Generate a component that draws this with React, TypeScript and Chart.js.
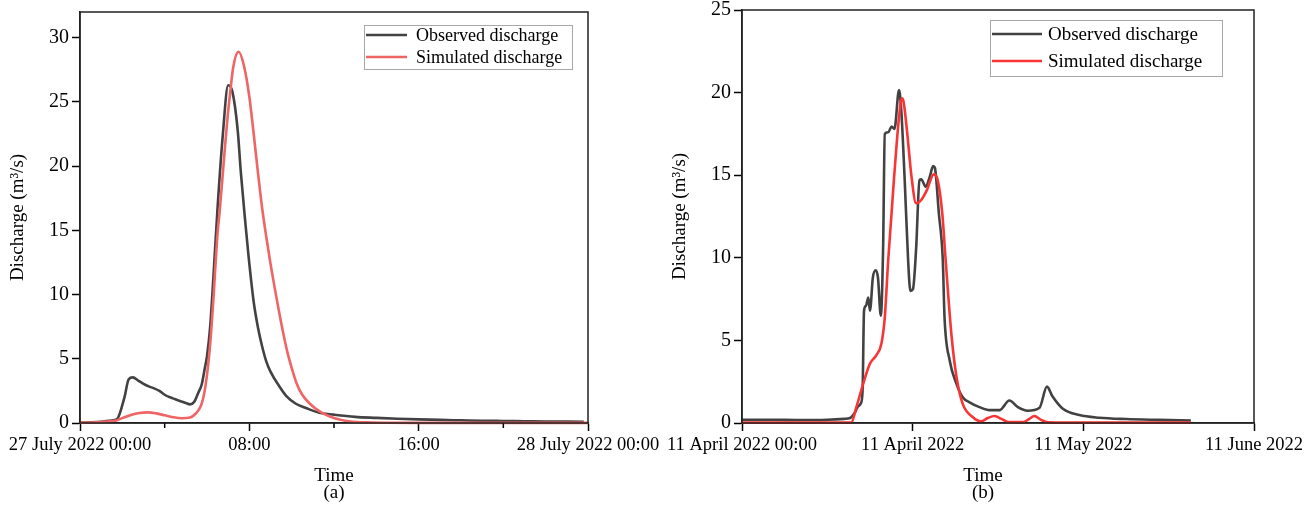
import React, { useEffect, useRef } from "react";
import { Chart, registerables } from "chart.js";

Chart.register(...registerables);

// ---------------- Panel (a) data ----------------
const OBS_A_HOURS = [0, 0.5, 1.0, 1.5, 1.75, 2.1, 2.3, 2.5, 2.75, 3.0, 3.25, 3.5, 3.75, 4.0, 4.25, 4.5, 4.75, 5.0, 5.2, 5.4, 5.6, 5.75, 5.9, 6.0, 6.15, 6.38, 6.5, 6.75, 7.0, 7.2, 7.45, 7.6, 7.8, 7.95, 8.2, 8.4, 8.6, 8.8, 9.0, 9.4, 9.75, 10.2, 10.7, 11.3, 12.0, 13.0, 14.0, 15.0, 16.0, 17.0, 18.0, 19.0, 20.0, 21.0, 22.0, 23.0, 23.8];
const OBS_A_VALUES = [0.02, 0.05, 0.1, 0.2, 0.3, 2.0, 3.4, 3.55, 3.3, 3.05, 2.85, 2.7, 2.5, 2.2, 2.0, 1.85, 1.7, 1.55, 1.45, 1.65, 2.4, 3.0, 4.3, 5.2, 7.5, 13.5, 16.8, 22.5, 26.3, 25.8, 22.8, 19.5, 15.8, 13.2, 9.5, 7.5, 6.0, 4.8, 4.0, 2.9, 2.1, 1.5, 1.15, 0.8, 0.65, 0.48, 0.4, 0.33, 0.28, 0.24, 0.21, 0.18, 0.16, 0.14, 0.12, 0.11, 0.1];

const SIM_A_HOURS = [0, 0.5, 1.0, 1.5, 1.75, 2.0, 2.4, 2.8, 3.2, 3.6, 4.0, 4.4, 4.8, 5.2, 5.45, 5.6, 5.75, 5.9, 6.06, 6.2, 6.3, 6.5, 6.6, 6.8, 6.96, 7.1, 7.24, 7.49, 7.75, 8.0, 8.2, 8.4, 8.6, 8.8, 9.0, 9.2, 9.4, 9.6, 9.8, 10.0, 10.23, 10.5, 10.86, 11.34, 11.8, 12.3, 12.8, 13.5, 14.5, 16, 20, 24];
const SIM_A_VALUES = [0.02, 0.04, 0.08, 0.15, 0.22, 0.38, 0.62, 0.78, 0.83, 0.75, 0.6, 0.45, 0.37, 0.42, 0.7, 1.0, 1.5, 2.6, 4.6, 7.2, 9.6, 14.8, 16.5, 20.5, 23.6, 25.8, 27.7, 28.9, 27.8, 25.4, 22.6, 19.6, 16.8, 14.5, 12.4, 10.5, 8.7, 7.0, 5.5, 4.3, 3.1, 2.2, 1.5, 0.88, 0.5, 0.25, 0.12, 0.05, 0.02, 0.01, 0.01, 0.01];

const X_TICKS_A = [0, 8, 16, 24];
const X_LABELS_A = ["27 July 2022 00:00", "08:00", "16:00", "28 July 2022 00:00"];
const X_MINOR_A = [4, 12, 20];
const Y_TICKS_A = [0, 5, 10, 15, 20, 25, 30];

// ---------------- Panel (b) data ----------------
const OBS_B_DAYS = [0, 5, 10, 15, 18, 19, 19.8, 20.4, 20.9, 21.2, 21.45, 21.8, 22.2, 22.5, 23.0, 23.5, 23.9, 24.4, 24.8, 25.1, 25.7, 26.3, 26.8, 27.6, 28.0, 28.6, 29.2, 29.6, 30.05, 30.6, 31.2, 31.5, 32.3, 33.0, 33.6, 33.9, 34.6, 35.3, 35.6, 36.5, 37.7, 38.8, 40.0, 41.75, 43.5, 45.3, 47.0, 48.5, 50.2, 52.3, 53.6, 54.6, 56.4, 59.3, 62.8, 67.5, 73.3, 78.9];
const OBS_B_VALUES = [0.2, 0.2, 0.18, 0.2, 0.25, 0.3, 0.6, 1.0, 1.2, 2.0, 6.8, 7.1, 7.6, 6.8, 8.8, 9.25, 8.8, 6.5, 10.5, 17.5, 17.6, 17.95, 17.8, 20.15, 18.9, 14.7, 9.85, 8.0, 8.1, 10.5, 14.7, 14.75, 14.3, 14.9, 15.55, 15.45, 12.7, 9.85, 6.4, 3.8, 2.37, 1.56, 1.25, 0.96, 0.78, 0.78, 1.36, 0.96, 0.74, 0.92, 2.2, 1.6, 0.86, 0.48, 0.32, 0.24, 0.19, 0.15];

const SIM_B_DAYS = [0, 10, 19.2, 20.1, 21.3, 22.5, 23.6, 24.5, 25.1, 25.7, 26.7, 27.6, 28.1, 28.4, 29.0, 29.8, 30.6, 31.5, 32.5, 33.7, 34.4, 35.2, 35.8, 36.8, 37.7, 38.8, 40.6, 42.0, 43.2, 44.4, 45.6, 46.8, 49.4, 50.5, 51.4, 52.5, 53.8, 60, 70, 78.9];
const SIM_B_VALUES = [0.02, 0.02, 0.02, 0.96, 2.37, 3.6, 4.1, 4.8, 6.4, 9.85, 14.7, 18.5, 19.65, 19.45, 17.7, 14.9, 13.3, 13.5, 14.1, 15.05, 14.7, 12.7, 9.85, 5.4, 2.8, 1.16, 0.35, 0.1, 0.3, 0.42, 0.25, 0.06, 0.05, 0.25, 0.42, 0.2, 0.04, 0.02, 0.02, 0.02];

const X_TICKS_B = [0, 30, 60, 90];
const X_LABELS_B = ["11 April 2022 00:00", "11 April 2022", "11 May 2022", "11 June 2022"];
const Y_TICKS_B = [0, 5, 10, 15, 20, 25];

const SERIES_LABELS = ["Observed discharge", "Simulated discharge"];
const Y_TITLE = "Discharge (m³/s)";
const X_TITLE = "Time";

const FONT = "'Liberation Serif', 'Times New Roman', serif";

type PanelSpec = {
  obsX: number[];
  obsY: number[];
  simX: number[];
  simY: number[];
  xMax: number;
  yMax: number;
  xTicks: number[];
  xLabels: string[];
  xMinor: number[];
  yTicks: number[];
  caption: string;
  simColor: string;
  obsColor: string;
  yAxisWidth: number;
  padRight: number;
  padTop: number;
  yTitlePad: number;
  xTitleShift: number;
  legend: {
    right: number;
    top: number;
    width: number;
    height: number;
    rowTop: number;
    rowGap: number;
    lineStart: number;
    lineLen: number;
    textX: number;
    fontSize: number;
  };
};

const toPoints = (xs: number[], ys: number[]) => xs.map((x, i) => ({ x, y: ys[i] }));

function makeConfig(p: PanelSpec): any {
  const framePlugin = {
    id: "frameAndLegend",
    afterDraw(chart: any) {
      const { ctx, chartArea } = chart;
      const xs = chart.scales.x;
      ctx.save();
      // minor ticks
      ctx.strokeStyle = "#000";
      ctx.lineWidth = 1.5;
      p.xMinor.forEach((v) => {
        const px = xs.getPixelForValue(v);
        ctx.beginPath();
        ctx.moveTo(px, chartArea.bottom);
        ctx.lineTo(px, chartArea.bottom + 5);
        ctx.stroke();
      });
      // frame
      ctx.strokeStyle = "#222";
      ctx.lineWidth = 1.5;
      ctx.strokeRect(chartArea.left, chartArea.top, chartArea.right - chartArea.left, chartArea.bottom - chartArea.top);
      // x title + caption
      const cx = (chartArea.left + chartArea.right) / 2 + p.xTitleShift;
      ctx.fillStyle = "#000";
      ctx.font = `19px ${FONT}`;
      ctx.textAlign = "center";
      ctx.textBaseline = "middle";
      ctx.fillText(X_TITLE, cx, chart.height - 32);
      ctx.fillText(p.caption, cx, chart.height - 15);
      // legend box
      const L = p.legend;
      const bx = chartArea.right - L.right - L.width;
      const by = chartArea.top + L.top;
      ctx.fillStyle = "#fff";
      ctx.fillRect(bx, by, L.width, L.height);
      ctx.strokeStyle = "#a8a8a8";
      ctx.lineWidth = 1;
      ctx.strokeRect(bx + 0.5, by + 0.5, L.width, L.height);
      chart.data.datasets.forEach((ds: any, i: number) => {
        const ly = by + L.rowTop + i * L.rowGap;
        ctx.strokeStyle = ds.borderColor;
        ctx.lineWidth = ds.borderWidth;
        ctx.beginPath();
        ctx.moveTo(bx + L.lineStart, ly);
        ctx.lineTo(bx + L.lineStart + L.lineLen, ly);
        ctx.stroke();
        ctx.fillStyle = "#000";
        ctx.font = `${L.fontSize}px ${FONT}`;
        ctx.textBaseline = "middle";
        ctx.textAlign = "left";
        ctx.fillText(ds.label, bx + L.textX, ly + 1);
      });
      ctx.restore();
    },
  };

  return {
    type: "line",
    data: {
      datasets: [
        {
          label: SERIES_LABELS[0],
          data: toPoints(p.obsX, p.obsY),
          borderColor: p.obsColor,
          borderWidth: 2.6,
          pointRadius: 0,
          cubicInterpolationMode: "monotone",
          clip: 4,
          order: 2,
        },
        {
          label: SERIES_LABELS[1],
          data: toPoints(p.simX, p.simY),
          borderColor: p.simColor,
          borderWidth: 2.6,
          pointRadius: 0,
          cubicInterpolationMode: "monotone",
          clip: 4,
          order: 1,
        },
      ],
    },
    options: {
      responsive: false,
      animation: false,
      devicePixelRatio: 1,
      layout: { padding: { left: 0, right: p.padRight, top: p.padTop, bottom: 0 } },
      plugins: { legend: { display: false }, tooltip: { enabled: false } },
      scales: {
        x: {
          type: "linear",
          min: 0,
          max: p.xMax,
          afterBuildTicks: (s: any) => {
            s.ticks = p.xTicks.map((v) => ({ value: v }));
          },
          afterFit: (s: any) => {
            s.height = 85;
            s.paddingLeft = 0;
            s.paddingRight = 0;
          },
          ticks: {
            autoSkip: false,
            maxRotation: 0,
            minRotation: 0,
            padding: 3,
            color: "#000",
            font: { family: FONT, size: 18.5 },
            callback: (_v: any, i: number) => p.xLabels[i] ?? "",
          },
          grid: { drawOnChartArea: false, drawTicks: true, tickLength: 8, tickColor: "#000", tickWidth: 1.5 },
          border: { display: true, color: "#222", width: 1.5 },
          title: { display: false },
        },
        y: {
          type: "linear",
          min: 0,
          max: p.yMax,
          afterBuildTicks: (s: any) => {
            s.ticks = p.yTicks.map((v) => ({ value: v }));
          },
          afterFit: (s: any) => {
            s.width = p.yAxisWidth;
            s.paddingTop = 0;
            s.paddingBottom = 0;
          },
          ticks: { padding: 3, color: "#000", font: { family: FONT, size: 20 } },
          grid: { drawOnChartArea: false, drawTicks: true, tickLength: 8, tickColor: "#000", tickWidth: 1.5 },
          border: { display: true, color: "#222", width: 1.5 },
          title: {
            display: true,
            text: Y_TITLE,
            color: "#000",
            font: { family: FONT, size: 19, lineHeight: "19px" },
            padding: { top: p.yTitlePad, bottom: 0 },
          },
        },
      },
    },
    plugins: [framePlugin],
  };
}

const PANEL_A: PanelSpec = {
  obsX: OBS_A_HOURS,
  obsY: OBS_A_VALUES,
  simX: SIM_A_HOURS,
  simY: SIM_A_VALUES,
  xMax: 24,
  yMax: 32,
  xTicks: X_TICKS_A,
  xLabels: X_LABELS_A,
  xMinor: X_MINOR_A,
  yTicks: Y_TICKS_A,
  caption: "(a)",
  simColor: "#ef6464",
  obsColor: "#424242",
  yAxisWidth: 80,
  padRight: 72,
  padTop: 12,
  yTitlePad: 8.5,
  xTitleShift: 0,
  legend: { right: 16, top: 13, width: 208, height: 44, rowTop: 10, rowGap: 22, lineStart: 2, lineLen: 41, textX: 52, fontSize: 18 },
};

const PANEL_B: PanelSpec = {
  obsX: OBS_B_DAYS,
  obsY: OBS_B_VALUES,
  simX: SIM_B_DAYS,
  simY: SIM_B_VALUES,
  xMax: 90,
  yMax: 25,
  xTicks: X_TICKS_B,
  xLabels: X_LABELS_B,
  xMinor: [],
  yTicks: Y_TICKS_B,
  caption: "(b)",
  simColor: "#f93434",
  obsColor: "#424242",
  yAxisWidth: 82,
  padRight: 54,
  padTop: 10,
  yTitlePad: 10.5,
  xTitleShift: -15,
  legend: { right: 32, top: 10, width: 232, height: 56, rowTop: 14, rowGap: 27, lineStart: 2, lineLen: 50, textX: 58, fontSize: 19 },
};

function Panel({ spec, left, width }: { spec: PanelSpec; left: number; width: number }) {
  const ref = useRef<HTMLCanvasElement | null>(null);
  useEffect(() => {
    if (!ref.current) return;
    const chart = new Chart(ref.current, makeConfig(spec));
    return () => chart.destroy();
  }, [spec]);
  return (
    <canvas
      ref={ref}
      width={width}
      height={508}
      style={{ position: "absolute", left, top: 0, width, height: 508 }}
    />
  );
}

export default function App() {
  return (
    <div style={{ position: "fixed", left: 0, top: 0, width: 1308, height: 508, background: "#fff", overflow: "hidden" }}>
      <Panel spec={PANEL_A} left={0} width={660} />
      <Panel spec={PANEL_B} left={660} width={648} />
    </div>
  );
}
